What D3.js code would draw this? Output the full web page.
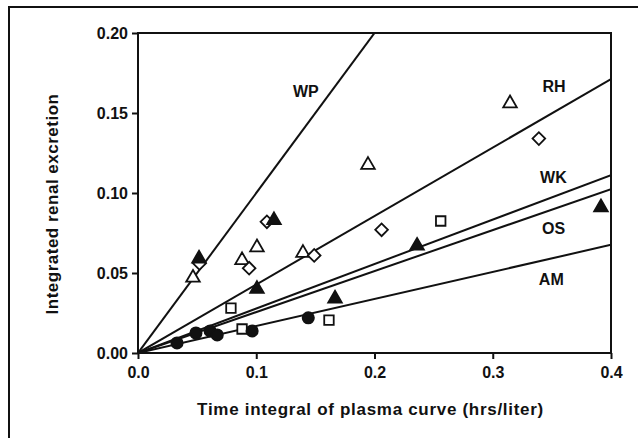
<!DOCTYPE html>
<html>
<head>
<meta charset="utf-8">
<script src="https://cdn.jsdelivr.net/npm/d3@7"></script>
<style>
  body { margin: 0; background: #fff; }
  svg { display: block; font-family: "Liberation Sans", Arial, sans-serif; }
</style>
</head>
<body>
<div class="canvas"></div>
<script>
// Data

const xTicks = [0.0, 0.1, 0.2, 0.3, 0.4];
const yTicks = [0.00, 0.05, 0.10, 0.15, 0.20];

// regression lines through the origin: label + slope
const lineNames = ["WP", "RH", "WK", "OS", "AM"];
const lineSlopes = [1.0, 0.428, 0.278, 0.256, 0.169];
const labelX = [0.131, 0.342, 0.340, 0.3416, 0.339];
const labelY = [0.160, 0.163, 0.106, 0.0744, 0.0425];

const openTriangles = [[0.0465, 0.047], [0.088, 0.058], [0.1006, 0.066], [0.1395, 0.0625], [0.1945, 0.1175], [0.3146, 0.156]];
const openDiamonds = [[0.052, 0.056], [0.094, 0.053], [0.109, 0.082], [0.149, 0.061], [0.206, 0.077], [0.339, 0.134]];
const filledTriangles = [[0.0516, 0.059], [0.115, 0.083], [0.1006, 0.040], [0.1666, 0.034], [0.236, 0.067], [0.3915, 0.091]];
const openSquares = [[0.0786, 0.028], [0.088, 0.015], [0.1615, 0.0206], [0.256, 0.0825]];
const filledCircles = [[0.033, 0.0063], [0.049, 0.0125], [0.061, 0.0138], [0.067, 0.0113], [0.0965, 0.0138], [0.144, 0.022]];

// Dimensions

const W = 638, H = 438;
const margin = { top: 33, right: 27, bottom: 85, left: 138 };
const width = W - margin.left - margin.right;
const height = H - margin.top - margin.bottom;

const x = d3.scaleLinear().domain([0, 0.4]).range([0, width]);
const y = d3.scaleLinear().domain([0, 0.2]).range([height, 0]);

const root = d3.select(".canvas")
  .append("svg")
    .attr("width", W)
    .attr("height", H);

// outer frame of the figure (cut off at right/bottom)
root.append("rect")
  .attr("x", 9).attr("y", 7)
  .attr("width", 800).attr("height", 600)
  .attr("fill", "none")
  .attr("stroke", "#111")
  .attr("stroke-width", 2);

const svg = root.append("g")
  .attr("transform", `translate(${margin.left}, ${margin.top})`);

svg.append("clipPath").attr("id", "plotclip")
  .append("rect").attr("width", width).attr("height", height);

// axes
svg.append("g")
  .attr("transform", `translate(0,${height})`)
  .call(d3.axisBottom(x).tickValues(xTicks).tickFormat(d3.format(".1f")).tickSize(6).tickPadding(8))
  .call(g => g.select(".domain").remove())
  .selectAll("text")
    .style("font-size", "16px")
    .style("font-weight", "bold")
    .attr("fill", "#111");

svg.append("g")
  .call(d3.axisLeft(y).tickValues(yTicks).tickFormat(d3.format(".2f")).tickSize(6).tickPadding(4))
  .call(g => g.select(".domain").remove())
  .selectAll("text")
    .style("font-size", "16px")
    .style("font-weight", "bold")
    .attr("fill", "#111");

svg.selectAll(".tick line").attr("stroke", "#111").attr("stroke-width", 2);

// plot box
svg.append("rect")
  .attr("width", width).attr("height", height)
  .attr("fill", "none")
  .attr("stroke", "#111")
  .attr("stroke-width", 2);

// regression lines
const lines = lineNames.map((n, i) => ({ name: n, slope: lineSlopes[i] }));

svg.append("g").attr("clip-path", "url(#plotclip)")
  .selectAll("line")
  .data(lines)
  .join("line")
    .attr("x1", x(0))
    .attr("y1", y(0))
    .attr("x2", d => x(0.4))
    .attr("y2", d => y(0.4 * d.slope))
    .attr("stroke", "#111")
    .attr("stroke-width", 2);

svg.selectAll(".lineLabel")
  .data(lines)
  .join("text")
    .attr("class", "lineLabel")
    .attr("x", (d, i) => x(labelX[i]))
    .attr("y", (d, i) => y(labelY[i]))
    .style("font-size", "16px")
    .style("font-weight", "bold")
    .attr("fill", "#111")
    .text(d => d.name);

// markers
function drawPoints(data, type, size, filled, rotate) {
  const sym = d3.symbol().type(type).size(size);
  svg.append("g")
    .selectAll("path")
    .data(data)
    .join("path")
      .attr("transform", d => `translate(${x(d[0])},${y(d[1])})` + (rotate ? " rotate(45)" : ""))
      .attr("d", sym)
      .attr("fill", filled ? "#111" : "#fff")
      .attr("stroke", "#111")
      .attr("stroke-width", 1.8);
}

drawPoints(openSquares, d3.symbolSquare, 90, false, false);
drawPoints(openTriangles, d3.symbolTriangle, 80, false, false);
drawPoints(openDiamonds, d3.symbolSquare, 80, false, true);
drawPoints(filledTriangles, d3.symbolTriangle, 80, true, false);
drawPoints(filledCircles, d3.symbolCircle, 100, true, false);

// axis labels
svg.append("text")
  .attr("x", width / 2 - 4)
  .attr("y", height + 62)
  .attr("text-anchor", "middle")
  .style("font-size", "17px")
  .style("font-weight", "bold")
  .style("letter-spacing", "0.7px")
  .attr("fill", "#111")
  .text("Time integral of plasma curve (hrs/liter)");

svg.append("text")
  .attr("transform", "rotate(-90)")
  .attr("x", -(204 - margin.top))
  .attr("y", -80)
  .attr("text-anchor", "middle")
  .style("font-size", "17px")
  .style("font-weight", "bold")
  .style("letter-spacing", "0.5px")
  .attr("fill", "#111")
  .text("Integrated renal excretion");
</script>
</body>
</html>
